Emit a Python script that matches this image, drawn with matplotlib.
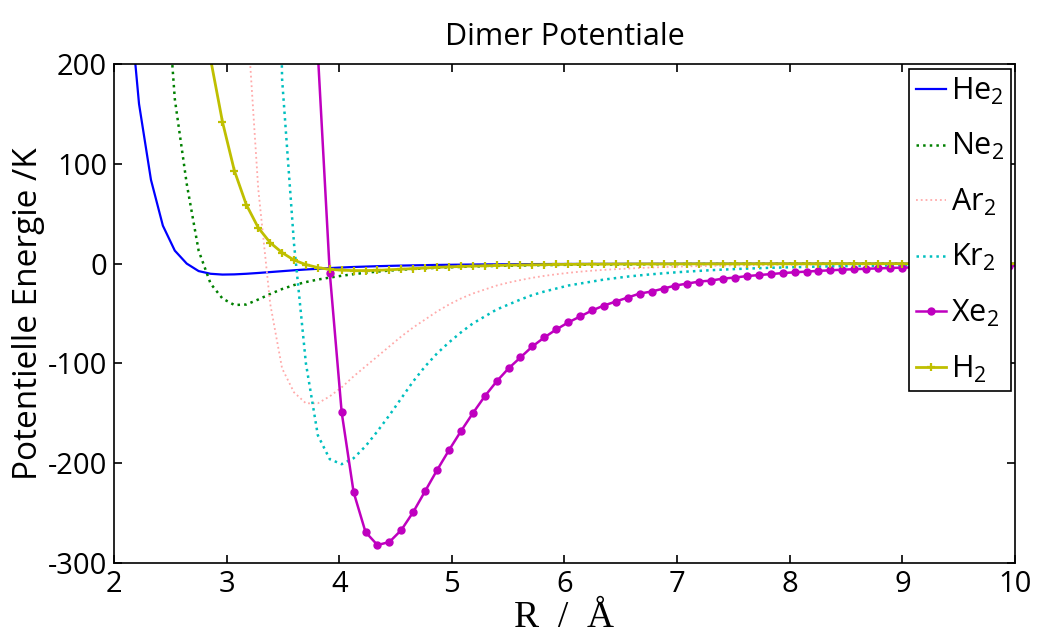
# -*- coding: utf-8 -*-
"""
Dimer potentials of the rare gas dimers and H2, redrawn from the MATLAB figure.
R grid is 0.2 bohr steps, given here in Angstrom.
"""

import matplotlib
matplotlib.use("Agg")
import matplotlib.pyplot as plt

#%% - Data

r_angstrom = [2.0109, 2.1167, 2.2225, 2.3284, 2.4342, 2.5401, 2.6459, 2.7517, 2.8576, 2.9634,
              3.0692, 3.1751, 3.2809, 3.3867, 3.4926, 3.5984, 3.7042, 3.8101, 3.9159, 4.0217,
              4.1276, 4.2334, 4.3393, 4.4451, 4.5509, 4.6568, 4.7626, 4.8684, 4.9743, 5.0801,
              5.1859, 5.2918, 5.3976, 5.5034, 5.6093, 5.7151, 5.8209, 5.9268, 6.0326, 6.1385,
              6.2443, 6.3501, 6.4560, 6.5618, 6.6676, 6.7735, 6.8793, 6.9851, 7.0910, 7.1968,
              7.3026, 7.4085, 7.5143, 7.6201, 7.7260, 7.8318, 7.9377, 8.0435, 8.1493, 8.2552,
              8.3610, 8.4668, 8.5727, 8.6785, 8.7843, 8.8902, 8.9960, 9.1018, 9.2077, 9.3135,
              9.4193, 9.5252, 9.6310, 9.7368, 9.8427, 9.9485, 10.0543]

# each series ends at the last grid point, it starts where the curve enters the plot
v_he = [290, 160, 84, 38, 13, 0, -7.5, -10.2, -11, -10.8,
        -10.2, -9.4, -8.5, -7.6, -6.7, -5.9, -5.2, -4.5, -3.9, -3.4,
        -3.0, -2.6, -2.3, -2.0, -1.75, -1.55, -1.35, -1.2, -1.05, -0.93,
        -0.82, -0.73, -0.65, -0.58, -0.52, -0.46, -0.41, -0.37, -0.33, -0.30,
        -0.27, -0.24, -0.22, -0.20, -0.18, -0.16, -0.15, -0.13, -0.12, -0.11,
        -0.10, -0.09, -0.09, -0.08, -0.08, -0.07, -0.07, -0.06, -0.06, -0.06,
        -0.05, -0.05, -0.05, -0.04, -0.04, -0.04, -0.04, -0.03, -0.03, -0.03,
        -0.03, -0.03, -0.03, -0.02, -0.02, -0.02]

v_ne = [330, 165, 80, 13, -20, -35,
        -41.5, -41, -36, -30.5, -25.5, -21.5, -18.5, -16, -14, -12.2,
        -10.6, -9.2, -8.0, -7.0, -6.1, -5.4, -4.8, -4.2, -3.7, -3.3,
        -2.9, -2.6, -2.3, -2.1, -1.9, -1.7, -1.5, -1.35, -1.2, -1.1,
        -1.0, -0.9, -0.82, -0.75, -0.68, -0.62, -0.57, -0.52, -0.48, -0.44,
        -0.40, -0.37, -0.34, -0.31, -0.29, -0.27, -0.25, -0.23, -0.21, -0.20,
        -0.18, -0.17, -0.16, -0.15, -0.14, -0.13, -0.12, -0.11, -0.11, -0.10,
        -0.10, -0.09, -0.09, -0.08, -0.08, -0.07, -0.07]

v_ar = [260, 75, -40, -105, -129, -140, -140, -133, -124,
        -113, -103, -93, -83, -73, -64, -56, -48, -41, -35,
        -30, -26, -22, -19, -16.5, -14.2, -12.3, -10.7, -9.3, -8.1,
        -7.1, -6.3, -5.6, -5.0, -4.4, -3.9, -3.5, -3.1, -2.8, -2.5,
        -2.25, -2.0, -1.8, -1.65, -1.5, -1.35, -1.2, -1.1, -1.0, -0.92,
        -0.84, -0.77, -0.70, -0.64, -0.59, -0.54, -0.50, -0.46, -0.42, -0.39,
        -0.36, -0.33, -0.31, -0.29, -0.27, -0.25, -0.23]

v_kr = [900, 185, 20, -100, -172, -196, -201,
        -195, -183, -168, -152, -135, -118, -103, -90, -79, -69,
        -60, -53, -46, -41, -36, -31.5, -28, -25, -22, -20,
        -18, -16, -14.5, -13, -11.8, -10.7, -9.7, -8.8, -8.0, -7.3,
        -6.6, -6.0, -5.5, -5.0, -4.6, -4.2, -3.9, -3.6, -3.3, -3.0,
        -2.8, -2.6, -2.4, -2.25, -2.1, -1.95, -1.8, -1.7, -1.6, -1.5,
        -1.4, -1.3, -1.25, -1.2, -1.1, -1.05, -1.0]

v_xe = [211, -9, -149,
        -229, -269, -282, -279, -267, -249, -228, -207, -187, -168,
        -150, -133, -118, -105, -94, -83, -74, -66, -59, -53,
        -47, -42, -38, -34, -30, -28, -25, -22, -20, -18,
        -17, -15, -14, -12.5, -11.5, -10.5, -9.5, -8.7, -8.0, -7.3,
        -6.7, -6.1, -5.6, -5.2, -4.8, -4.4, -4.1, -3.8, -3.5, -3.2,
        -3.0, -2.8, -2.6, -2.4, -2.2, -2.1, -1.9]

v_h2 = [205, 142,
        93, 59, 36, 21, 11, 3.5, -1, -4, -5.8, -6.6,
        -7, -7, -6.7, -6.2, -5.6, -5.0, -4.4, -3.8, -3.3, -2.9,
        -2.5, -2.2, -1.9, -1.6, -1.4, -1.2, -1.05, -0.9, -0.8, -0.7,
        -0.6, -0.55, -0.5, -0.45, -0.4, -0.37, -0.34, -0.31, -0.28, -0.26,
        -0.24, -0.22, -0.2, -0.18, -0.17, -0.16, -0.15, -0.14, -0.13, -0.12,
        -0.11, -0.1, -0.1, -0.09, -0.09, -0.08, -0.08, -0.07, -0.07, -0.06,
        -0.06, -0.06, -0.05, -0.05, -0.05, -0.05, -0.04]

labels = ['He$_2$', 'Ne$_2$', 'Ar$_2$', 'Kr$_2$', 'Xe$_2$', 'H$_2$']
x_ticks = [2, 3, 4, 5, 6, 7, 8, 9, 10]
y_ticks = [-300, -200, -100, 0, 100, 200]

#%% - Plot

plt.rcParams['font.family'] = ['Open Sans', 'DejaVu Sans']
plt.rcParams['mathtext.fontset'] = 'custom'
plt.rcParams['mathtext.rm'] = 'Open Sans'
plt.rcParams['mathtext.it'] = 'Open Sans'
plt.rcParams['axes.unicode_minus'] = False

fig = plt.figure(figsize=(10.37, 6.33), dpi=100)
ax = fig.add_axes([0.1099, 0.1106, 0.8689, 0.7883])

def tail(y):
    return r_angstrom[len(r_angstrom) - len(y):]

ax.plot(tail(v_he), v_he, '-', color='#0000ff', lw=1.6, label=labels[0])
ax.plot(tail(v_ne), v_ne, ':', color='#008000', lw=1.8, label=labels[1])
ax.plot(tail(v_ar), v_ar, ':', color='#ffaaaa', lw=1.3, label=labels[2])
ax.plot(tail(v_kr), v_kr, ':', color='#00bfbf', lw=1.8, label=labels[3])
ax.plot(tail(v_xe), v_xe, '-', color='#bf00bf', lw=1.8, marker='o', ms=5,
        label=labels[4])
ax.plot(tail(v_h2), v_h2, '-', color='#bfbf00', lw=2.0, marker='+', ms=6, mew=1.6,
        label=labels[5])

ax.set_xlim(2, 10)
ax.set_ylim(-300, 200)
ax.set_xticks(x_ticks)
ax.set_yticks(y_ticks)
ax.tick_params(direction='in', length=6, width=1.2, top=True, right=True,
               labelsize=21, pad=5)
for sp in ax.spines.values():
    sp.set_linewidth(1.2)

ax.set_title('Dimer Potentiale', fontsize=22, pad=14)
ax.set_ylabel('Potentielle Energie /K', fontsize=24, labelpad=2)
ax.set_xlabel('R  /  Å', fontsize=27, family='Liberation Serif', labelpad=1)

leg = ax.legend(loc='upper right', bbox_to_anchor=(0.9956, 0.99), borderaxespad=0,
                fontsize=22, handlelength=1.0, handletextpad=0.15,
                labelspacing=0.8, borderpad=0.22, fancybox=False, framealpha=1)
leg.get_frame().set_edgecolor('black')
leg.get_frame().set_linewidth(1.2)

fig.savefig('out.png', dpi=100)
